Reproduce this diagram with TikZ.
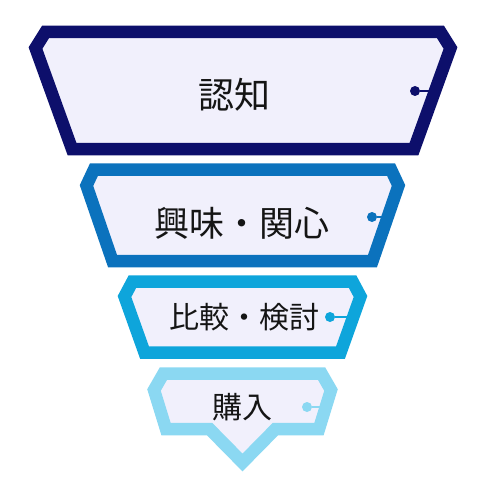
\documentclass[tikz,border=0pt]{standalone}
\usepackage{fontspec}
\setmainfont{Noto Sans CJK JP}
\usetikzlibrary{positioning}
\definecolor{navyfun}{HTML}{0D0F6B}
\definecolor{bluefun}{HTML}{0B72BD}
\definecolor{cyanfun}{HTML}{0EA5DB}
\definecolor{skyfun}{HTML}{8BD8F2}
\definecolor{paperfun}{HTML}{F1F0FC}
\definecolor{inkfun}{HTML}{151515}
\tikzset{
  stage/.style={draw=#1, fill=paperfun, line width=12.5pt, line join=miter},
  knob/.style={circle, fill=#1, inner sep=0pt, minimum size=10pt},
  stem/.style={draw=#1, line width=2.8pt},
  stagetext/.style={text=inkfun, inner sep=0pt}
}

\begin{document}
\begin{tikzpicture}[x=1pt, y=-1pt]
    \useasboundingbox (0,0) rectangle (497,484);
    % Etapa 1: ninchi
    \draw[stage=navyfun]
      (45.5,32) -- (440.5,32) -- (450.5,48) -- (414,149) -- (72,149) -- (35.5,48) -- cycle;
    \node[stagetext, font=\fontsize{36}{40}\selectfont] (ninchi) at (234,95) {認知};
    \node[knob=navyfun] (dot1) at (415,91) {};
    \coordinate (edge1) at (435,91);
    \draw[stem=navyfun] (dot1) -- (edge1);
    % Etapa 2: kyomi / kanshin
    \draw[stage=bluefun]
      (94,169.5) -- (391,169.5) -- (398.5,185.5) -- (372.5,261) -- (112.5,261) -- (86.5,185.5) -- cycle;
    \node[stagetext, font=\fontsize{35}{40}\selectfont] (kyomi) at (242,223) {興味・関心};
    \node[knob=bluefun] (dot2) at (372,217) {};
    \coordinate (edge2) at (388,217);
    \draw[stem=bluefun] (dot2) -- (edge2);
    % Etapa 3: hikaku / kento
    \draw[stage=cyanfun]
      (132.5,281.5) -- (352.5,281.5) -- (360.5,296.5) -- (340.5,352.5) -- (144.5,352.5) -- (124.5,296.5) -- cycle;
    \node[stagetext, font=\fontsize{30}{36}\selectfont] (hikaku) at (244,317) {比較・検討};
    \node[knob=cyanfun] (dot3) at (330,317) {};
    \coordinate (edge3) at (353,317);
    \draw[stem=cyanfun] (dot3) -- (edge3);
    % Etapa 4: kounyu (com ponta)
    \draw[stage=skyfun]
      (163.5,373.5) -- (321.5,373.5) -- (331,390) -- (319,429) -- (275.5,429)
      -- (242.5,462.5) -- (209.5,429) -- (166,429) -- (154,390) -- cycle;
    \node[stagetext, font=\fontsize{30}{36}\selectfont] (kounyu) at (242,407) {購入};
    \node[knob=skyfun] (dot4) at (307,407) {};
    \coordinate (edge4) at (326,407);
    \draw[stem=skyfun] (dot4) -- (edge4);
\end{tikzpicture}
\end{document}
